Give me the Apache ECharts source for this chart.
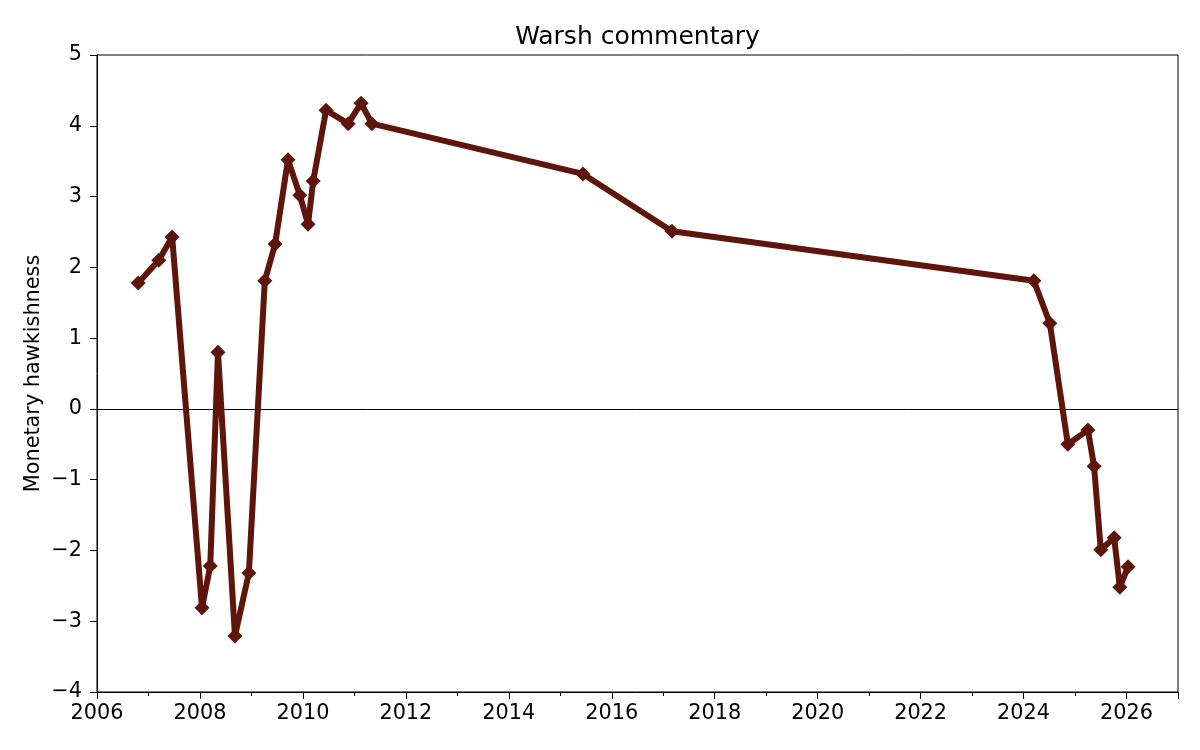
<!DOCTYPE html>
<html>
<head>
<meta charset="utf-8">
<script src="https://cdn.jsdelivr.net/npm/echarts@6/dist/echarts.min.js"></script>
<style>
  html, body { margin: 0; padding: 0; background: #fff; }
  #chart { width: 1200px; height: 750px; }
</style>
</head>
<body>
<div id="chart"></div>
<script>
// dates as decimal years
var years = [2006.80, 2007.20, 2007.46, 2008.04, 2008.20, 2008.35, 2008.68, 2008.95,
  2009.26, 2009.46, 2009.71, 2009.94, 2010.10, 2010.20, 2010.45, 2010.88, 2011.13,
  2011.34, 2015.44, 2017.17, 2024.20, 2024.51, 2024.86, 2025.25, 2025.37, 2025.50,
  2025.76, 2025.87, 2026.03]
var hawkishness = [1.78, 2.10, 2.43, -2.81, -2.22, 0.80, -3.21, -2.32,
  1.81, 2.33, 3.52, 3.02, 2.61, 3.22, 4.22, 4.03, 4.32,
  4.03, 3.32, 2.51, 1.81, 1.21, -0.50, -0.30, -0.81, -1.99,
  -1.82, -2.52, -2.23]

var chart = echarts.init(document.getElementById('chart'))
var font = 'DejaVu Sans'

var points = years.map(function (y, i) { return [y, hawkishness[i]] })

function minus(v) {
  return v < 0 ? '\u2212' + (-v) : String(v)
}

var option = {
  animation: false,
  backgroundColor: '#ffffff',
  title: {
    text: 'Warsh commentary',
    left: 'center',
    top: 20,
    textStyle: { fontFamily: font, fontSize: 25, fontWeight: 'normal', color: '#000' }
  },
  grid: {
    left: 97,
    right: 22,
    top: 55,
    bottom: 58,
    show: true,
    borderColor: '#000',
    borderWidth: 1
  },
  xAxis: {
    type: 'value',
    min: 2006,
    max: 2027,
    interval: 2,
    axisLine: { show: true, onZero: false, lineStyle: { color: '#000', width: 1 } },
    axisTick: { show: true, inside: false, length: 7, lineStyle: { color: '#000' } },
    minorTick: { show: true, splitNumber: 2, length: 4, lineStyle: { color: '#000' } },
    splitLine: { show: false },
    axisLabel: {
      margin: 11,
      fontFamily: font, fontSize: 20.8, color: '#000',
      showMaxLabel: false,
      formatter: function (v) { return String(v) }
    }
  },
  yAxis: {
    type: 'value',
    min: -4,
    max: 5,
    interval: 1,
    name: 'Monetary hawkishness',
    nameLocation: 'middle',
    nameGap: 53,
    nameMoveOverlap: false,
    nameTextStyle: { fontFamily: font, fontSize: 20.8, color: '#000' },
    axisLine: { show: true, onZero: false, lineStyle: { color: '#000', width: 1 } },
    axisTick: { show: true, inside: false, length: 7, lineStyle: { color: '#000' } },
    splitLine: { show: false },
    axisLabel: {
      margin: 15,
      fontFamily: font, fontSize: 20.8, color: '#000',
      formatter: minus
    }
  },
  series: [{
    type: 'line',
    data: points,
    color: '#5e150b',
    lineStyle: { width: 6, color: '#5e150b' },
    symbol: 'diamond',
    symbolSize: 15,
    showSymbol: true,
    itemStyle: { color: '#5e150b' },
    z: 3,
    markLine: {
      silent: true,
      symbol: 'none',
      label: { show: false },
      lineStyle: { color: '#000', width: 1, type: 'solid' },
      data: [{ yAxis: 0 }],
      z: 1
    }
  }]
}

chart.setOption(option)

// centre the title over the plot area rather than the page
var gridRect = chart.getModel().getComponent('grid').coordinateSystem.getRect()
chart.setOption({
  title: { left: gridRect.x + gridRect.width / 2 - 5, textAlign: 'center' }
})
</script>
</body>
</html>
